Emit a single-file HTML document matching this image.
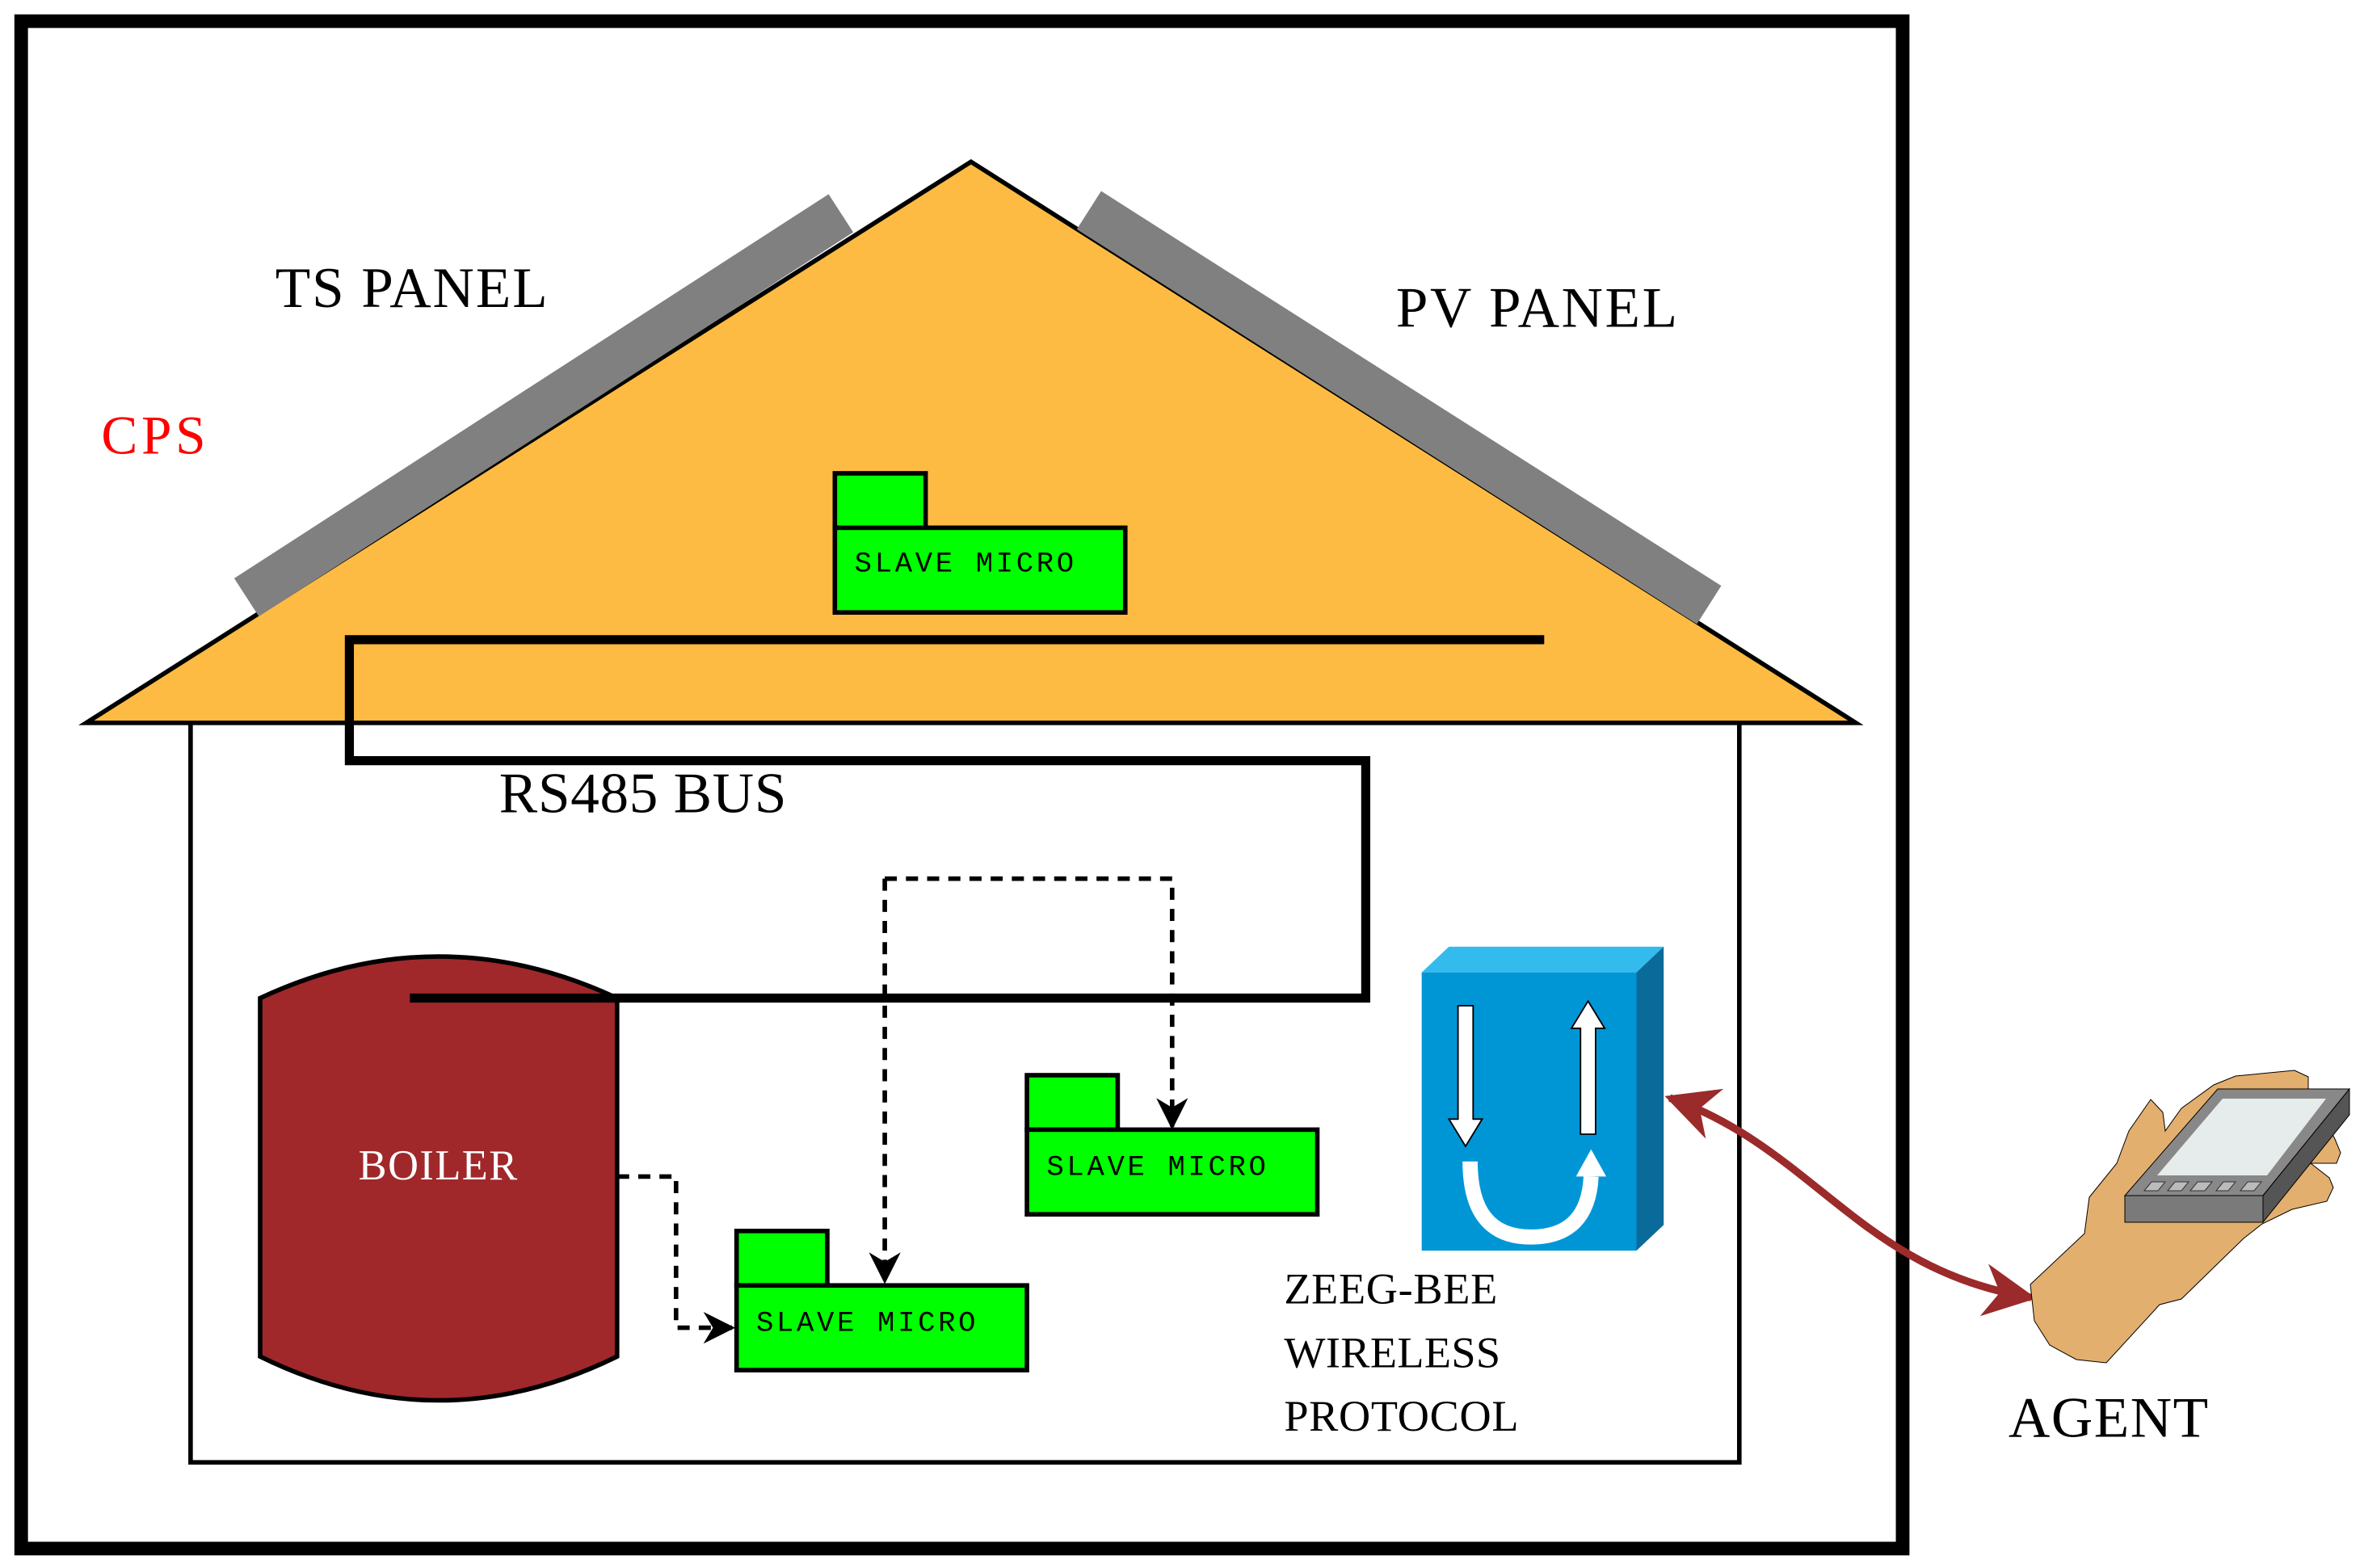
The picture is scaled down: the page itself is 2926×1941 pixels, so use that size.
<!DOCTYPE html>
<html><head><meta charset="utf-8"><style>html,body{margin:0;padding:0;background:#fff}svg{display:block}</style></head>
<body>
<svg width="2926" height="1941" viewBox="0 0 2926 1941" xmlns="http://www.w3.org/2000/svg">
<defs>
<marker id="ah" viewBox="0 0 10 10" refX="9" refY="5" markerWidth="7" markerHeight="7" markerUnits="strokeWidth" orient="auto"><path d="M0,0 L10,5 L0,10 L3,5 z" fill="#000"/></marker>
<marker id="rh" viewBox="0 0 10 10" refX="9" refY="5" markerWidth="7" markerHeight="7" orient="auto-start-reverse"><path d="M0,0 L10,5 L0,10 L3,5 z" fill="#9B2A2A"/></marker>
</defs>
<g transform="scale(1.872)">
<rect x="14" y="14" width="1244" height="1010" fill="#fff" stroke="#000" stroke-width="9"/>
<rect x="126" y="470" width="1024" height="497" fill="#fff" stroke="#000" stroke-width="3"/>
<polygon points="57,478 642,107 1227,478" fill="#FDBB43" stroke="#000" stroke-width="3"/>
<line x1="163" y1="395" x2="556" y2="141" stroke="#808080" stroke-width="30"/>
<line x1="720" y1="139" x2="1130" y2="400" stroke="#808080" stroke-width="30"/>
<g font-family="Liberation Serif, serif">
<text x="182" y="203" font-size="38" textLength="180">TS PANEL</text>
<text x="923" y="216" font-size="38" textLength="186">PV PANEL</text>
<text x="67" y="300" font-size="36" fill="#ff0000" textLength="69">CPS</text>
<text x="330" y="537" font-size="38" textLength="190">RS485 BUS</text>
<text x="849" y="862" font-size="29" textLength="141">ZEEG-BEE</text>
<text x="849" y="904" font-size="29" textLength="143">WIRELESS</text>
<text x="849" y="946" font-size="29" textLength="155">PROTOCOL</text>
<text x="1328" y="950" font-size="38" textLength="132">AGENT</text>
</g>
<path d="M172,660 Q290,605 408,660 L408,897 Q290,955 172,897 Z" fill="#A0282A" stroke="#000" stroke-width="3"/>
<text x="237" y="780" font-size="28" fill="#fff" font-family="Liberation Serif, serif" textLength="105">BOILER</text>
<polyline points="1021,423 231,423 231,503 903,503 903,660 271,660" fill="none" stroke="#000" stroke-width="6"/>
<g fill="#00FF00" stroke="#000" stroke-width="3">
<rect x="552" y="313" width="60" height="36"/><rect x="552" y="349" width="192" height="56"/>
<rect x="679" y="711" width="60" height="36"/><rect x="679" y="747" width="192" height="56"/>
<rect x="487" y="814" width="60" height="36"/><rect x="487" y="850" width="192" height="56"/>
</g>
<g font-family="Liberation Mono, monospace" font-size="19">
<text x="565" y="378" textLength="145">SLAVE MICRO</text>
<text x="692" y="777" textLength="145">SLAVE MICRO</text>
<text x="500" y="880" textLength="145">SLAVE MICRO</text>
</g>
<polyline points="408,778 447,778 447,878 484,878" fill="none" stroke="#000" stroke-width="3" stroke-dasharray="8,6" marker-end="url(#ah)"/>
<polyline points="585,581 585,847" fill="none" stroke="#000" stroke-width="3" stroke-dasharray="8,6" marker-end="url(#ah)"/>
<polyline points="585,581 775,581 775,745" fill="none" stroke="#000" stroke-width="3" stroke-dasharray="8,6" marker-end="url(#ah)"/>
<polygon points="940,643 958,626 1100,626 1082,643" fill="#33BBEE"/>
<polygon points="1082,643 1100,626 1100,810 1082,827" fill="#0A6A9A"/>
<rect x="940" y="643" width="142" height="184" fill="#0096D6"/>
<g fill="#fff" stroke="#000" stroke-width="1">
<polygon points="964,665 974,665 974,740 980,740 969,758 958,740 964,740"/>
<polygon points="1045,750 1055,750 1055,680 1061,680 1050,662 1039,680 1045,680"/>
</g>
<path d="M972,768 Q972,818 1012,818 Q1050,818 1052,778" fill="none" stroke="#fff" stroke-width="10"/>
<polygon points="1042,778 1052,760 1062,778" fill="#fff"/>
<path d="M1104,726 C1200,760 1230,840 1343,858" fill="none" stroke="#9B2A2A" stroke-width="5" marker-start="url(#rh)" marker-end="url(#rh)"/>
</g>
<polygon points="2513,1590 2580,1527 2586,1482 2620,1440 2635,1400 2662,1361 2677,1377 2680,1400 2700,1372 2740,1343 2767,1332 2840,1325 2857,1333 2857,1347 2890,1410 2897,1427 2892,1440 2860,1440 2883,1458 2888,1470 2880,1487 2837,1497 2800,1515 2777,1533 2700,1608 2673,1615 2607,1687 2570,1683 2537,1665 2518,1635" fill="#E3AF6E" stroke="#000" stroke-width="1"/>
<polygon points="2630,1480 2745,1348 2908,1348 2801,1480" fill="#888" stroke="#000" stroke-width="1"/>
<polygon points="2670,1455 2751,1360 2879,1360 2806,1455" fill="#E6ECEC"/>
<rect x="2630" y="1480" width="171" height="33" fill="#7A7A7A" stroke="#000" stroke-width="1"/>
<polygon points="2801,1480 2908,1348 2908,1380 2801,1513" fill="#555" stroke="#000" stroke-width="1"/>
<g fill="#BBB" stroke="#333" stroke-width="1">
<polygon points="2654,1474 2663,1463 2680,1463 2671,1474"/>
<polygon points="2683,1474 2692,1463 2709,1463 2700,1474"/>
<polygon points="2711,1474 2720,1463 2738,1463 2729,1474"/>
<polygon points="2743,1474 2752,1463 2767,1463 2758,1474"/>
<polygon points="2773,1474 2782,1463 2799,1463 2790,1474"/>
</g>
</svg>
</body></html>
